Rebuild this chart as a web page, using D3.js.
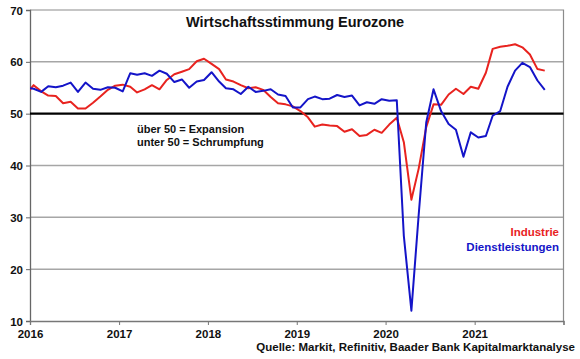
<!DOCTYPE html>
<html><head><meta charset="utf-8">
<script src="https://cdn.jsdelivr.net/npm/d3@7"></script>
<style>
body{margin:0;background:#fff;}
svg{display:block;font-family:"Liberation Sans",Arial,sans-serif;}
</style></head>
<body>
<svg id="c" width="580" height="359"></svg>
<script>
// Monthly data, first value = Dec 2015, last = Oct 2021
const startYear = 2015, startMonth = 11; // December 2015 (0-based month)
const industrie = [53.7,
 55.5,54.3,53.5,53.4,52.0,52.3,51.0,51.0,52.1,53.3,54.6,55.4,
 55.6,55.2,54.1,54.7,55.5,54.7,56.5,57.6,58.1,58.6,60.1,60.6,
 59.6,58.6,56.6,56.2,55.5,54.9,55.1,54.6,53.2,52.0,51.8,51.4,
 50.5,49.3,47.5,47.9,47.7,47.6,46.5,47.0,45.7,45.9,46.9,46.3,
 47.9,49.2,44.5,33.4,39.4,47.4,51.8,51.7,53.7,54.8,53.8,55.2,
 54.8,57.9,62.5,62.9,63.1,63.4,62.8,61.4,58.6,58.3];
const dienstleistungen = [55.0,
 54.8,54.2,55.3,55.1,55.4,56.0,54.2,56.0,54.8,54.6,55.1,55.0,
 54.3,57.8,57.5,57.8,57.3,58.3,57.7,56.1,56.6,55.0,56.2,56.5,
 58.0,56.2,54.9,54.7,53.8,55.2,54.2,54.4,54.7,53.7,53.4,51.2,
 51.2,52.8,53.3,52.8,52.9,53.6,53.2,53.5,51.6,52.2,51.9,52.8,
 52.5,52.6,26.4,12.0,30.5,48.3,54.7,50.5,48.0,46.9,41.7,46.4,
 45.4,45.7,49.6,50.5,55.2,58.3,59.8,59.0,56.4,54.6];
const yearTicks = [2016,2017,2018,2019,2020,2021,2022];
const yearLabels = ["2016","2017","2018","2019","2020","2021"];
const yTicks = [10,20,30,40,50,60,70];
const title = "Wirtschaftsstimmung Eurozone";
const noteLines = ["über 50 = Expansion","unter 50 = Schrumpfung"];
const seriesNames = ["Industrie","Dienstleistungen"];
const source = "Quelle: Markit, Refinitiv, Baader Bank Kapitalmarktanalyse";

const svg = d3.select("#c");
const L = 30, R = 563.5, T = 10, B = 321;
const x = d3.scaleTime().domain([new Date(2016,0,1), new Date(2022,0,1)]).range([L, R]);
const y = d3.scaleLinear().domain([10,70]).range([B, T]);
const dateOf = i => new Date(startYear, startMonth + i, 16);

svg.append("defs").append("clipPath").attr("id","clip")
  .append("rect").attr("x",L).attr("y",0).attr("width",R-L).attr("height",359);

// gridlines
svg.append("g").selectAll("line").data(yTicks.filter(v => v!==10 && v!==50 && v!==70)).join("line")
  .attr("x1",L).attr("x2",R).attr("y1",d=>y(d)).attr("y2",d=>y(d))
  .attr("stroke","#a6a6a6").attr("stroke-width",1.5);
// frame top/right
svg.append("path").attr("d",`M${L},${y(70)}H${R}V${y(10)}`).attr("fill","none")
  .attr("stroke","#8c8c8c").attr("stroke-width",1.2);

// y axis
const ya = svg.append("g").attr("transform",`translate(${L},0)`)
  .call(d3.axisLeft(y).tickValues(yTicks).tickSize(4).tickFormat(d3.format("d")));
ya.select(".domain").attr("stroke","#666").attr("stroke-width",1.3);
ya.selectAll(".tick line").attr("stroke","#666");
ya.selectAll("text").attr("font-size",11.5).attr("font-weight","bold").attr("fill","#111")
  .attr("font-family","Liberation Sans, Arial, sans-serif").attr("x",-7).attr("dy","0.35em");

// x axis
const xa = svg.append("g").attr("transform",`translate(0,${B})`)
  .call(d3.axisBottom(x).tickValues(yearTicks.map(yr=>new Date(yr,0,1))).tickSize(4)
    .tickFormat((d,i)=> yearLabels[i] || ""));
xa.select(".domain").attr("stroke","#777").attr("stroke-width",1.3);
xa.selectAll(".tick line").attr("stroke","#777");
xa.selectAll("text").attr("font-size",11.5).attr("font-weight","bold").attr("fill","#111")
  .attr("font-family","Liberation Sans, Arial, sans-serif").attr("y",9);

// 50 line
svg.append("line").attr("x1",L).attr("x2",R).attr("y1",y(50)).attr("y2",y(50))
  .attr("stroke","#000").attr("stroke-width",2.2);

// lines
const line = d3.line().x((d,i)=>x(dateOf(i))).y(d=>y(d));
const g = svg.append("g").attr("clip-path","url(#clip)");
g.append("path").datum(industrie).attr("d",line).attr("fill","none")
  .attr("stroke","#e8231f").attr("stroke-width",2).attr("stroke-linejoin","round");
g.append("path").datum(dienstleistungen).attr("d",line).attr("fill","none")
  .attr("stroke","#1414c8").attr("stroke-width",2).attr("stroke-linejoin","round");

// title
svg.append("text").attr("x",295).attr("y",27).attr("text-anchor","middle")
  .attr("font-size",14.5).attr("font-weight","bold").attr("fill","#111").text(title);

// note
svg.selectAll(".note").data(noteLines).join("text").attr("class","note")
  .attr("x",137).attr("y",(d,i)=>132.5+i*13.3).attr("font-size",11)
  .attr("font-weight","bold").attr("fill","#111").text(d=>d);

// legend
const colors = ["#e8231f","#1414c8"];
svg.selectAll(".leg").data(seriesNames).join("text").attr("class","leg")
  .attr("x",559).attr("y",(d,i)=>236+i*14.6).attr("text-anchor","end")
  .attr("font-size",11.5).attr("font-weight","bold").attr("fill",(d,i)=>colors[i]).text(d=>d);

// source
svg.append("text").attr("x",575).attr("y",351).attr("text-anchor","end")
  .attr("font-size",11.5).attr("font-weight","bold").attr("fill","#111").text(source);
</script>
</body></html>
